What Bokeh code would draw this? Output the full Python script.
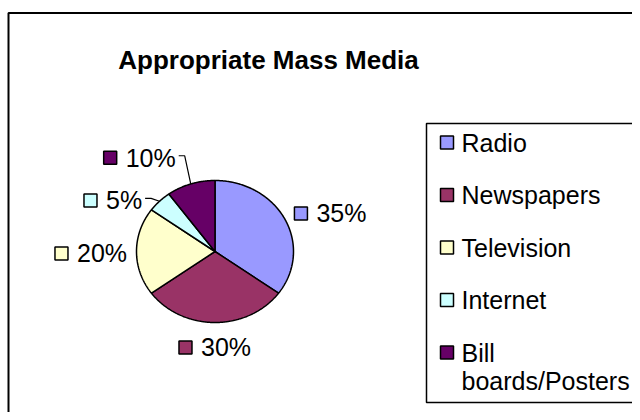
import numpy as np
from bokeh.plotting import figure
from bokeh.models import Range1d
from bokeh.core.properties import value
from bokeh.embed import file_html
from bokeh.resources import INLINE

# ---- data ----
title = "Appropriate Mass Media"
categories = ["Radio", "Newspapers", "Television", "Internet", "Bill boards/Posters"]
legend_labels = ["Radio", "Newspapers", "Television", "Internet", "Bill\nboards/Posters"]
shares = [35, 30, 20, 5, 10]
colors = ["#9999FF", "#993366", "#FFFFCC", "#CCFFFF", "#660066"]

# ---- layout params (pixel-like data space) ----
W, H = 632, 412
FONT = "Liberation Sans"
FS = 25
cx, cy, rx, ry = 214.5, 251.0, 78.5, 71.0
label_dang = [-7, 0, 1, 16, 18]          # degrees offset of label from slice mid-angle
label_r = [1.565, 1.352, 1.58, 1.485, 1.632]

p = figure(width=W, height=H, x_range=Range1d(0, W), y_range=Range1d(H, 0),
           output_backend="svg", toolbar_location=None, min_border=0,
           x_axis_location=None, y_axis_location=None)
p.grid.visible = False
p.outline_line_color = None
p.background_fill_color = "white"
p.border_fill_color = "white"

# chart frame (right/bottom edges fall outside the view)
p.quad(left=8, right=800, top=12.5, bottom=700, fill_color=None,
       line_color="black", line_width=2)

# title
p.text(x=[268], y=[59], text=[title], text_font=value(FONT), text_font_size="26px",
       text_font_style="bold", text_align="center", text_baseline="alphabetic",
       text_color="black")

# pie slices
total = float(sum(shares))
start = 90.0
xs, ys, mids = [], [], []
for s in shares:
    sweep = 360.0 * s / total
    end = start - sweep
    th = np.radians(np.linspace(start, end, max(int(sweep * 2), 8)))
    px = np.concatenate([[cx], cx + rx * np.cos(th), [cx]])
    py = np.concatenate([[cy], cy - ry * np.sin(th), [cy]])
    xs.append(list(px)); ys.append(list(py))
    mids.append((start + end) / 2.0)
    start = end
p.patches(xs=xs, ys=ys, fill_color=colors, line_color="black", line_width=1.5)


def text_w(s, fs):
    w = {"%": 0.889}
    return sum(w.get(c, 0.556) for c in s) * fs


# data labels with key squares
for i, s in enumerate(shares):
    lab = f"{s}%"
    ang = np.radians(mids[i] + label_dang[i])
    gx = cx + rx * label_r[i] * np.cos(ang)
    gy = cy - ry * label_r[i] * np.sin(ang)
    tw = text_w(lab, FS)
    gw = 13 + 9 + tw
    left = gx - gw / 2
    p.rect(x=[left + 6.5], y=[gy], width=13, height=13, fill_color=colors[i],
           line_color="black", line_width=1.5)
    p.text(x=[left + 22], y=[gy], text=[lab], text_font=value(FONT),
           text_font_size=f"{FS}px", text_align="left", text_baseline="middle",
           text_color="black")
    if label_dang[i] > 10:
        m = np.radians(mids[i])
        ex = cx + rx * np.cos(m)
        ey = cy - ry * np.sin(m)
        sx = left + gw + 3
        p.line(x=[sx, sx + 6, ex], y=[gy - 2, gy - 2, ey], line_color="black", line_width=1.2)

# legend
p.quad(left=426, right=633, top=123, bottom=402, fill_color="white",
       line_color="black", line_width=1.5)
for i, lab in enumerate(legend_labels):
    yc = 142 + 52.5 * i
    p.rect(x=[446.5], y=[yc], width=13, height=13, fill_color=colors[i],
           line_color="black", line_width=1.5)
    for j, part in enumerate(lab.split("\n")):
        p.text(x=[461], y=[yc + 28 * j], text=[part], text_font=value(FONT),
               text_font_size=f"{FS}px", text_align="left", text_baseline="middle",
               text_color="black")

open("out.html", "w").write(file_html(p, INLINE))
